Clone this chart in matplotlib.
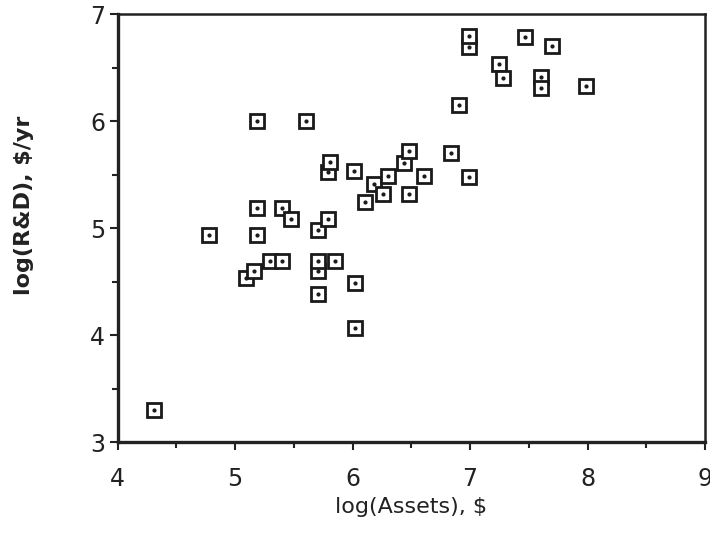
import matplotlib
matplotlib.use("Agg")
import matplotlib.pyplot as plt
from matplotlib.ticker import MultipleLocator

log_assets = [4.31, 4.78, 5.09, 5.16, 5.19, 5.19, 5.19, 5.30, 5.40, 5.40,
              5.48, 5.60, 5.71, 5.71, 5.71, 5.71, 5.79, 5.79, 5.81, 5.85,
              6.01, 6.02, 6.02, 6.11, 6.18, 6.26, 6.30, 6.44, 6.48, 6.48,
              6.61, 6.84, 6.91, 6.99, 6.99, 6.99, 7.25, 7.28, 7.47, 7.60,
              7.60, 7.70, 7.99]
log_rd = [3.30, 4.94, 4.54, 4.60, 4.94, 5.19, 6.00, 4.70, 4.70, 5.19,
          5.09, 6.00, 4.39, 4.60, 4.70, 4.99, 5.09, 5.53, 5.62, 4.70,
          5.54, 4.49, 4.07, 5.25, 5.42, 5.32, 5.49, 5.61, 5.72, 5.32,
          5.49, 5.71, 6.15, 5.48, 6.70, 6.80, 6.54, 6.41, 6.79, 6.42,
          6.31, 6.71, 6.33]

x_ticks = [4, 5, 6, 7, 8, 9]
y_ticks = [3, 4, 5, 6, 7]

fig = plt.figure(figsize=(7.10, 5.37), dpi=100)
ax = fig.add_axes([0.1655, 0.176, 0.8275, 0.797])

ax.plot(log_assets, log_rd, linestyle='none', marker='s', markersize=9.5,
        markerfacecolor='white', markeredgecolor='#1a1a1a', markeredgewidth=2.0)
ax.plot(log_assets, log_rd, linestyle='none', marker='o', markersize=2,
        color='#1a1a1a')

ax.set_xlim(4, 9)
ax.set_ylim(3, 7)
ax.set_xticks(x_ticks)
ax.set_yticks(y_ticks)
ax.xaxis.set_minor_locator(MultipleLocator(0.5))
ax.yaxis.set_minor_locator(MultipleLocator(0.5))
ax.tick_params(which='both', direction='out', color='#222222', width=1.5)
ax.tick_params(which='major', length=6, labelsize=17, labelcolor='#222222')
ax.tick_params(which='minor', length=4.5)
ax.tick_params(axis='x', which='major', pad=12)
ax.tick_params(axis='y', which='major', pad=3)

for s in ['left', 'bottom']:
    ax.spines[s].set_linewidth(2.4)
    ax.spines[s].set_color('#222222')
for s in ['top', 'right']:
    ax.spines[s].set_linewidth(1.8)
    ax.spines[s].set_color('#222222')

ax.set_xlabel('log(Assets), $', fontsize=16, color='#222222', labelpad=4)
ax.set_ylabel('log(R&D), $/yr', fontsize=16, fontweight='bold', color='#222222')
ax.yaxis.set_label_coords(-0.142, 0.555)

fig.savefig('out.png', dpi=100)
